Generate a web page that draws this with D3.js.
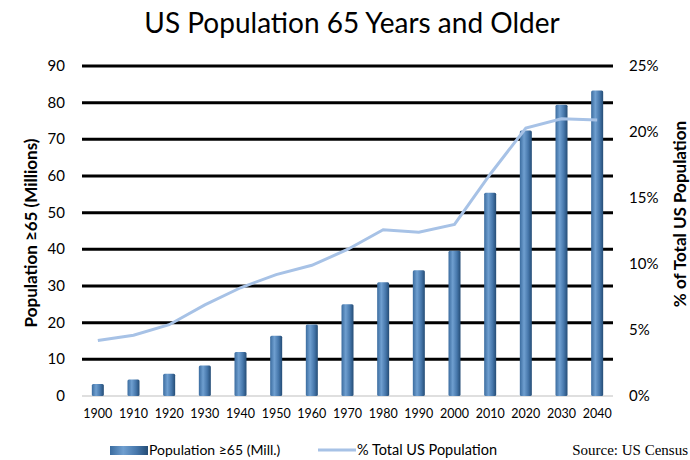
<!DOCTYPE html>
<html>
<head>
<meta charset="utf-8">
<script src="https://cdn.jsdelivr.net/npm/d3@7"></script>
<style>
  body { margin: 0; background: #fff; }
  text { font-family: Lato, "Open Sans", sans-serif; }
</style>
</head>
<body>
<svg id="chart" width="690" height="460"></svg>
<script>
// data
var years = ['1900','1910','1920','1930','1940','1950','1960','1970','1980','1990','2000','2010','2020','2030','2040']
var popMillions = [3.3, 4.5, 6.1, 8.3, 12.0, 16.4, 19.5, 25.0, 31.0, 34.3, 39.6, 55.4, 72.4, 79.4, 83.3]
var pctTotal = [4.2, 4.6, 5.4, 6.9, 8.2, 9.2, 9.9, 11.1, 12.6, 12.4, 13.0, 16.8, 20.3, 21.0, 20.9]
var leftTicks = [0, 10, 20, 30, 40, 50, 60, 70, 80, 90]
var rightTicks = [0, 5, 10, 15, 20, 25]

var svg = d3.select('#chart')

var x = d3.scaleBand().domain(years).range([80, 615])
var y = d3.scaleLinear().domain([0, 90]).range([396, 66])
var y2 = d3.scaleLinear().domain([0, 25]).range([396, 66])

// cylinder-ish gradient for the bars
var grad = svg.append('defs').append('linearGradient')
    .attr('id', 'barGrad')
    .attr('x1', '0%').attr('x2', '100%').attr('y1', '0%').attr('y2', '0%')
grad.append('stop').attr('offset', '0%').attr('stop-color', '#3b6c9f')
grad.append('stop').attr('offset', '35%').attr('stop-color', '#6f9fd0')
grad.append('stop').attr('offset', '70%').attr('stop-color', '#4677ab')
grad.append('stop').attr('offset', '100%').attr('stop-color', '#244c75')

// Title
svg.append('text')
    .attr('x', 352).attr('y', 33)
    .attr('text-anchor', 'middle')
    .style('font-size', '28px')
    .text('US Population 65 Years and Older')

// Gridlines
svg.append('g').selectAll('line')
    .data(leftTicks.filter(function (d) { return d > 0 }))
    .enter().append('line')
    .attr('x1', 82).attr('x2', 613)
    .attr('y1', function (d) { return y(d) })
    .attr('y2', function (d) { return y(d) })
    .attr('stroke', '#000')
    .attr('stroke-width', 3)

// baseline
svg.append('line')
    .attr('x1', 82).attr('x2', 613)
    .attr('y1', y(0)).attr('y2', y(0))
    .attr('stroke', '#bfbfbf').attr('stroke-width', 1)

// Left axis labels
svg.append('g').selectAll('text')
    .data(leftTicks)
    .enter().append('text')
    .attr('x', 65)
    .attr('y', function (d) { return y(d) + 5 })
    .attr('text-anchor', 'end')
    .style('font-size', '15px')
    .text(function (d) { return d })

// Right axis labels
svg.append('g').selectAll('text')
    .data(rightTicks)
    .enter().append('text')
    .attr('x', 629)
    .attr('y', function (d) { return y2(d) + 5 })
    .attr('text-anchor', 'start')
    .style('font-size', '15px')
    .text(function (d) { return d + '%' })

// Bars
var barW = 12
svg.append('g').selectAll('rect')
    .data(popMillions)
    .enter().append('rect')
    .attr('x', function (d, i) { return x(years[i]) + x.bandwidth() / 2 - barW / 2 })
    .attr('y', function (d) { return y(d) })
    .attr('width', barW)
    .attr('height', function (d) { return y(0) - y(d) })
    .attr('rx', 1.5)
    .attr('fill', 'url(#barGrad)')

// Line
svg.append('path')
    .datum(pctTotal)
    .attr('fill', 'none')
    .attr('stroke', '#a7c2e6')
    .attr('stroke-width', 3)
    .attr('d', d3.line()
        .x(function (d, i) { return x(years[i]) + x.bandwidth() / 2 })
        .y(function (d) { return y2(d) })
    )

// X labels
svg.append('g').selectAll('text')
    .data(years)
    .enter().append('text')
    .attr('x', function (d) { return x(d) + x.bandwidth() / 2 })
    .attr('y', 418)
    .attr('text-anchor', 'middle')
    .style('font-size', '12.5px')
    .text(function (d) { return d })

// Axis titles
svg.append('text')
    .attr('transform', 'translate(37,233) rotate(-90)')
    .attr('text-anchor', 'middle')
    .style('font-size', '17px')
    .style('font-weight', 'bold')
    .text('Population ≥65 (Millions)')

svg.append('text')
    .attr('transform', 'translate(686,214) rotate(-90)')
    .attr('text-anchor', 'middle')
    .style('font-size', '17px')
    .style('font-weight', 'bold')
    .text('% of Total US Population')

// Legend
svg.append('rect')
    .attr('x', 110).attr('y', 446).attr('width', 38).attr('height', 9)
    .attr('fill', 'url(#barGrad)')
svg.append('text')
    .attr('x', 149).attr('y', 455)
    .style('font-size', '14px')
    .text('Population ≥65 (Mill.)')

svg.append('line')
    .attr('x1', 318).attr('x2', 356).attr('y1', 450).attr('y2', 450)
    .attr('stroke', '#a7c2e6').attr('stroke-width', 3)
svg.append('text')
    .attr('x', 357).attr('y', 455)
    .style('font-size', '14.5px')
    .text('% Total US Population')

svg.append('text')
    .attr('x', 688).attr('y', 455)
    .attr('text-anchor', 'end')
    .style('font-family', '"Liberation Serif", serif')
    .style('font-size', '15px')
    .text('Source: US Census')
</script>
</body>
</html>
